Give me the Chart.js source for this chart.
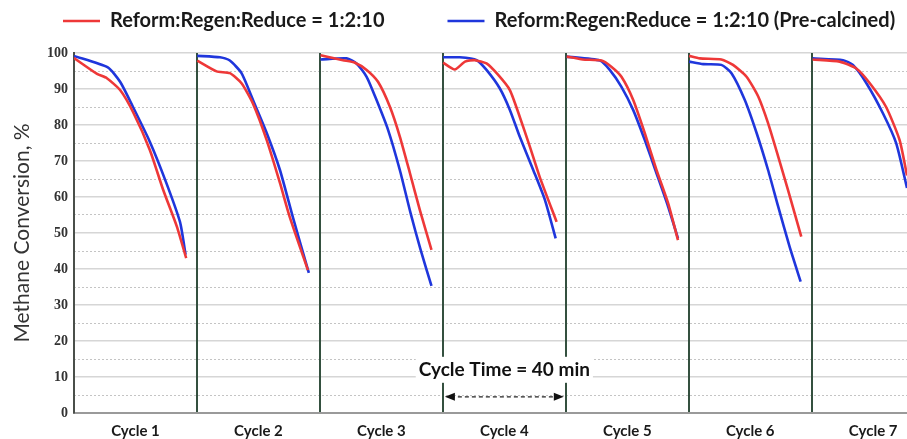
<!DOCTYPE html>
<html>
<head>
<meta charset="utf-8">
<script src="https://cdn.jsdelivr.net/npm/chart.js@4/dist/chart.umd.min.js"></script>
<style>
html, body { margin: 0; padding: 0; background: #fff; }
</style>
</head>
<body>
<canvas id="myChart" width="907" height="439"></canvas>
<script>
// cycle names shown under the axis, each cycle is 40 min
const cycleLabels = ['Cycle 1', 'Cycle 2', 'Cycle 3', 'Cycle 4', 'Cycle 5', 'Cycle 6', 'Cycle 7'];
const cycleMinutes = 40;
const seriesNames = ['Reform:Regen:Reduce = 1:2:10', 'Reform:Regen:Reduce = 1:2:10 (Pre-calcined)'];

// time in minutes, null splits the cycles
const redTime = [
    0, 7.5, 10.7, 15, 19.2, 24.7, 29, 33.5, 36.5, null,
    40.1, 46.4, 50.7, 54.5, 58.2, 62.7, 67, 70.2, 76.1, null,
    80.2, 87.5, 91.4, 95.2, 98.9, 102.8, 106, 109.3, 112.5, 116.3, null,
    120.1, 123.9, 127.2, 130.4, 134.2, 138, 141.8, 145, 148.3, 151.5, 157, null,
    160.3, 165.5, 171.6, 174.8, 178.1, 181.9, 185.7, 189.5, 193.3, 196.5, null,
    200.1, 203.6, 210.6, 214.4, 218.8, 222.6, 225.8, 229.1, 232.3, 236.6, null,
    240.3, 249.1, 254.5, 258.9, 264.2, 268.6, 271
];
const redConv = [
    98.6, 94.2, 93, 89.7, 83.6, 73, 62, 51.7, 43, null,
    97.9, 94.9, 94.4, 91.6, 86, 75.8, 63.9, 54.4, 39.7, null,
    99.4, 98, 97.3, 95.3, 92, 85, 76.8, 66.6, 56.4, 45.3, null,
    97.3, 95.4, 97.6, 98, 97.1, 93.9, 89.7, 82.3, 74, 65.6, 53.1, null,
    99, 98.2, 97.9, 96.2, 93.4, 87, 77.7, 67.5, 58.2, 48, null,
    99.2, 98.5, 98.2, 96.7, 93.4, 87.9, 80.5, 71.2, 61.9, 49, null,
    98.2, 97.6, 95.7, 91.6, 85, 75.8, 66
];

const blueTime = [
    0, 11, 15, 19.2, 24.7, 30, 34.5, 36.3, null,
    40.1, 47.5, 50.7, 54.5, 58.2, 62.7, 67, 71.2, 76.4, null,
    80.2, 88.7, 91.9, 95.2, 98.4, 102.2, 106, 109.5, 112.7, 116.3, null,
    120.1, 125.5, 131, 134.2, 138.5, 141.8, 145, 149.4, 153.2, 156.7, null,
    160.3, 171.1, 174.3, 178.1, 181.9, 185.7, 189.5, 193.3, 196.5, null,
    200.1, 204.7, 210.6, 213.9, 218.2, 222.1, 225.8, 229.1, 232.8, 236.4, null,
    240.3, 250.2, 253.4, 257.8, 263.2, 267.5, 271
];
const blueConv = [
    99.2, 96, 92, 85, 75.3, 64, 53, 44, null,
    99.2, 98.8, 97.9, 94.4, 87, 77.8, 67.5, 54.4, 38.9, null,
    98.2, 98.5, 97.1, 93.4, 87, 78.6, 67.5, 55.5, 45.5, 35.3, null,
    98.8, 98.8, 98, 95.3, 90.2, 84.2, 76.8, 67.5, 59.2, 48.5, null,
    99, 97.9, 95.3, 90.6, 84.2, 75.8, 66.6, 57.3, 48.5, null,
    97.6, 96.9, 96.7, 94.4, 87, 77.7, 67.5, 57.3, 46.2, 36.5, null,
    98.5, 98, 96.7, 91.6, 83.2, 74.9, 62.5
];

const RED = '#ee3838';
const BLUE = '#1f36dc';
const CYCLE_LINE = '#34503f';

function toPoints(times, values) {
    return times.map((t, i) => ({ x: t, y: values[i] }));
}

// legend line + text, and the "Cycle Time" arrow note
const extras = {
    id: 'extras',
    afterDraw(chart) {
        const ctx = chart.ctx;
        const x = chart.scales.x;
        const y = chart.scales.y;

        // legend
        ctx.save();
        ctx.font = 'bold 20px Lato';
        ctx.textBaseline = 'middle';
        let lx = 63;
        const ly = 21;
        chart.data.datasets.forEach(ds => {
            ctx.strokeStyle = ds.borderColor;
            ctx.lineWidth = 2.5;
            ctx.beginPath();
            ctx.moveTo(lx, ly);
            ctx.lineTo(lx + 37, ly);
            ctx.stroke();
            ctx.fillStyle = '#1a1a1a';
            ctx.fillText(ds.label, lx + 47, ly);
            lx += 47 + ctx.measureText(ds.label).width + 63;
        });
        ctx.restore();

        // cycle time note over cycle 4
        const x1 = x.getPixelForValue(3 * cycleMinutes);
        const x2 = x.getPixelForValue(4 * cycleMinutes);
        const xm = (x1 + x2) / 2;
        const ya = y.getPixelForValue(4.5);
        const yt = y.getPixelForValue(12);
        ctx.save();
        ctx.font = 'bold 19px Lato';
        const label = 'Cycle Time = ' + cycleMinutes + ' min';
        const w = ctx.measureText(label).width;
        ctx.fillStyle = '#fff';
        ctx.fillRect(xm - w / 2 - 3, yt - 13, w + 6, 26);
        ctx.fillStyle = '#111';
        ctx.textAlign = 'center';
        ctx.textBaseline = 'middle';
        ctx.fillText(label, xm, yt);

        ctx.strokeStyle = '#222';
        ctx.lineWidth = 1.2;
        ctx.setLineDash([4, 3]);
        ctx.beginPath();
        ctx.moveTo(x1 + 8, ya);
        ctx.lineTo(x2 - 8, ya);
        ctx.stroke();
        ctx.setLineDash([]);
        ctx.fillStyle = '#111';
        ctx.beginPath();
        ctx.moveTo(x1 + 2, ya);
        ctx.lineTo(x1 + 12, ya - 4);
        ctx.lineTo(x1 + 12, ya + 4);
        ctx.closePath();
        ctx.fill();
        ctx.beginPath();
        ctx.moveTo(x2 - 2, ya);
        ctx.lineTo(x2 - 12, ya - 4);
        ctx.lineTo(x2 - 12, ya + 4);
        ctx.closePath();
        ctx.fill();
        ctx.restore();
    }
};

const ctx = document.getElementById('myChart').getContext('2d');
const myChart = new Chart(ctx, {
    type: 'line',
    data: {
        datasets: [{
            label: seriesNames[0],
            data: toPoints(redTime, redConv),
            borderColor: RED,
            backgroundColor: RED,
            borderWidth: 2.6,
            pointRadius: 0,
            tension: 0.2,
            spanGaps: false
        }, {
            label: seriesNames[1],
            data: toPoints(blueTime, blueConv),
            borderColor: BLUE,
            backgroundColor: BLUE,
            borderWidth: 2.6,
            pointRadius: 0,
            tension: 0.2,
            spanGaps: false
        }]
    },
    options: {
        responsive: false,
        animation: false,
        layout: { padding: { top: 53, right: 0, bottom: 0, left: 0 } },
        plugins: {
            legend: { display: false },
            tooltip: { enabled: false }
        },
        scales: {
            x: {
                type: 'linear',
                min: 0,
                max: 271,
                afterBuildTicks: scale => {
                    const ticks = [];
                    for (let i = 0; i < cycleLabels.length; i++) {
                        ticks.push({ value: i * cycleMinutes });
                        ticks.push({ value: i * cycleMinutes + cycleMinutes / 2 });
                    }
                    scale.ticks = ticks;
                },
                afterFit: scale => { scale.height = 26; },
                ticks: {
                    autoSkip: false,
                    maxRotation: 0,
                    padding: 9,
                    color: '#1a1a1a',
                    font: { family: 'Lato', size: 15, weight: 'bold' },
                    callback: value => value % cycleMinutes === 0 ? '' : cycleLabels[Math.floor(value / cycleMinutes)]
                },
                grid: {
                    drawTicks: false,
                    lineWidth: 2,
                    z: -1,
                    color: c => (c.tick && c.tick.value % cycleMinutes === 0) ? CYCLE_LINE : 'rgba(0,0,0,0)'
                },
                border: { display: true, color: '#9a9a9a', width: 2 }
            },
            y2: {
                position: 'left',
                min: 0,
                max: 100,
                ticks: { stepSize: 5, display: false },
                afterFit: scale => { scale.width = 0; },
                grid: {
                    drawTicks: false,
                    lineWidth: 1,
                    z: -2,
                    color: c => (c.tick && c.tick.value % 10 !== 0) ? '#c4c4c4' : 'rgba(0,0,0,0)'
                },
                border: { display: false, dash: [2, 2] }
            },
            y: {
                position: 'left',
                min: 0,
                max: 100,
                afterFit: scale => { scale.width = 74; },
                ticks: {
                    stepSize: 10,
                    padding: 6,
                    color: '#333',
                    font: { family: 'Liberation Serif', size: 14, weight: 'bold' }
                },
                grid: { drawTicks: false, color: '#d6d6d6', lineWidth: 1.5, z: -2 },
                border: { display: true, color: '#4a4f4a', width: 2 },
                title: {
                    display: true,
                    text: 'Methane Conversion, %',
                    color: '#333',
                    font: { family: 'Lato', size: 21 },
                    padding: { top: 10, bottom: 0 }
                }
            }
        }
    },
    plugins: [extras]
});
</script>
</body>
</html>
